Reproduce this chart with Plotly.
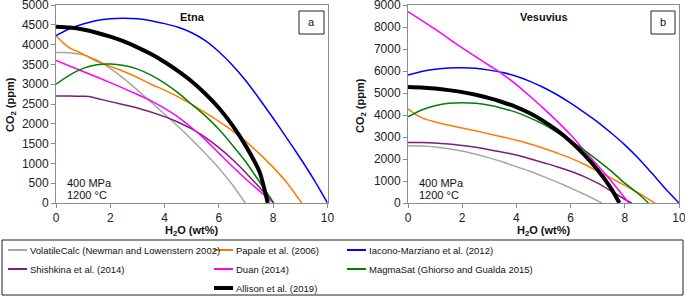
import plotly.graph_objects as go

W, H = 685, 296
FONT = "Liberation Sans, Arial, sans-serif"

# ---------------- data ----------------
series_names = [
    "VolatileCalc (Newman and Lowenstern 2002)",
    "Papale et al. (2006)",
    "Iacono-Marziano et al. (2012)",
    "Shishkina et al. (2014)",
    "Duan (2014)",
    "MagmaSat (Ghiorso and Gualda 2015)",
    "Allison et al. (2019)",
]
series_colors = ["#A6A6A6", "#FF7A00", "#0000FF", "#7A1F7A", "#FF00FF", "#008000", "#000000"]
series_widths = [1.5, 1.5, 1.5, 1.5, 1.5, 1.5, 4]

# Etna (panel a)
etna_volatilecalc_h2o = [0, 0.5, 1, 1.5, 2, 2.5, 3, 3.5, 4, 4.5, 5, 5.5, 6, 6.5, 6.97]
etna_volatilecalc_co2 = [3800, 3795, 3740, 3610, 3400, 3140, 2850, 2550, 2240, 1930, 1600, 1250, 880, 460, 0]
etna_papale_h2o = [0, 0.25, 0.5, 1, 1.5, 2, 2.5, 3, 3.5, 4, 4.5, 5, 5.5, 6, 6.5, 7, 7.5, 8, 8.5, 9.05]
etna_papale_co2 = [4230, 4050, 3920, 3760, 3580, 3450, 3320, 3170, 3000, 2850, 2680, 2490, 2280, 2060, 1820, 1550, 1240, 900, 520, 0]
etna_iacono_h2o = [0, 0.5, 1, 1.5, 2, 2.5, 3, 3.5, 4, 4.5, 5, 5.5, 6, 6.5, 7, 7.5, 8, 8.5, 9, 9.5, 10]
etna_iacono_co2 = [4230, 4400, 4520, 4610, 4655, 4665, 4650, 4605, 4530, 4440, 4300, 4100, 3820, 3480, 3080, 2620, 2140, 1640, 1130, 590, 0]
etna_shishkina_h2o = [0, 0.5, 1, 1.2, 2, 3, 4, 4.5, 5, 5.5, 6, 6.5, 7, 7.5, 8.02]
etna_shishkina_co2 = [2700, 2700, 2695, 2690, 2560, 2400, 2180, 2040, 1870, 1660, 1400, 1100, 760, 390, 0]
etna_duan_h2o = [0, 1, 2, 3, 3.5, 4, 4.5, 5, 5.5, 6, 6.5, 7, 7.5, 8.02]
etna_duan_co2 = [3600, 3320, 3040, 2740, 2580, 2390, 2170, 1900, 1600, 1260, 920, 600, 300, 0]
etna_magmasat_h2o = [0, 0.5, 1, 1.5, 2, 2.5, 3, 3.5, 4, 4.5, 5, 5.5, 6, 6.5, 7, 7.5, 8.02]
etna_magmasat_co2 = [3000, 3230, 3400, 3490, 3510, 3470, 3380, 3230, 3030, 2780, 2490, 2200, 1860, 1460, 1030, 530, 0]
etna_allison_h2o = [0, 0.5, 1, 1.5, 2, 2.5, 3, 3.5, 4, 4.5, 5, 5.5, 6, 6.5, 7, 7.5, 7.8]
etna_allison_co2 = [4450, 4430, 4380, 4300, 4200, 4080, 3930, 3760, 3560, 3330, 3070, 2760, 2400, 1960, 1430, 780, 0]

# Vesuvius (panel b)
vesu_volatilecalc_h2o = [0, 0.5, 1, 1.5, 2, 2.5, 3, 3.5, 4, 4.5, 5, 5.5, 6, 6.5, 7, 7.15]
vesu_volatilecalc_co2 = [2600, 2590, 2550, 2470, 2360, 2220, 2050, 1860, 1650, 1440, 1200, 950, 680, 400, 100, 0]
vesu_papale_h2o = [0, 0.25, 0.5, 1, 1.5, 2, 2.5, 3, 3.5, 4, 4.5, 5, 5.5, 6, 6.5, 7, 7.5, 8, 8.5, 9.1]
vesu_papale_co2 = [4280, 4050, 3880, 3680, 3530, 3410, 3280, 3140, 3000, 2850, 2680, 2490, 2270, 2040, 1760, 1440, 1130, 800, 460, 0]
vesu_iacono_h2o = [0, 0.5, 1, 1.5, 2, 2.5, 3, 3.5, 4, 4.5, 5, 5.5, 6, 6.5, 7, 7.5, 8, 8.5, 9, 9.5, 10]
vesu_iacono_co2 = [5820, 5980, 6080, 6140, 6150, 6120, 6040, 5930, 5760, 5530, 5250, 4920, 4540, 4120, 3680, 3180, 2640, 2030, 1350, 650, 0]
vesu_shishkina_h2o = [0, 0.5, 1, 1.5, 2, 2.5, 3, 3.5, 4, 4.5, 5, 5.5, 6, 6.5, 7, 7.5, 8, 8.25]
vesu_shishkina_co2 = [2750, 2750, 2730, 2680, 2610, 2530, 2420, 2310, 2180, 2010, 1830, 1650, 1440, 1200, 900, 540, 170, 0]
vesu_duan_h2o = [0, 1, 2, 3, 3.5, 4, 4.5, 5, 5.5, 6, 6.5, 7, 7.5, 8, 8.15]
vesu_duan_co2 = [8700, 7900, 7050, 6250, 5850, 5380, 4850, 4300, 3720, 3100, 2400, 1700, 1000, 230, 0]
vesu_magmasat_h2o = [0, 0.5, 1, 1.5, 2, 2.5, 3, 3.5, 4, 4.5, 5, 5.5, 6, 6.5, 7, 7.5, 8, 8.5, 8.87]
vesu_magmasat_co2 = [3920, 4230, 4420, 4530, 4560, 4530, 4440, 4300, 4120, 3870, 3570, 3210, 2820, 2400, 1940, 1450, 900, 420, 0]
vesu_allison_h2o = [0, 0.5, 1, 1.5, 2, 2.5, 3, 3.5, 4, 4.5, 5, 5.5, 6, 6.5, 7, 7.5, 7.8]
vesu_allison_co2 = [5270, 5250, 5200, 5130, 5040, 4920, 4770, 4580, 4360, 4080, 3720, 3300, 2800, 2200, 1500, 650, 0]

x_ticks = [0, 2, 4, 6, 8, 10]
etna_y_ticks = list(range(0, 5001, 500))
vesu_y_ticks = list(range(0, 9001, 1000))

etna_series = [
    (etna_volatilecalc_h2o, etna_volatilecalc_co2),
    (etna_papale_h2o, etna_papale_co2),
    (etna_iacono_h2o, etna_iacono_co2),
    (etna_shishkina_h2o, etna_shishkina_co2),
    (etna_duan_h2o, etna_duan_co2),
    (etna_magmasat_h2o, etna_magmasat_co2),
    (etna_allison_h2o, etna_allison_co2),
]
vesu_series = [
    (vesu_volatilecalc_h2o, vesu_volatilecalc_co2),
    (vesu_papale_h2o, vesu_papale_co2),
    (vesu_iacono_h2o, vesu_iacono_co2),
    (vesu_shishkina_h2o, vesu_shishkina_co2),
    (vesu_duan_h2o, vesu_duan_co2),
    (vesu_magmasat_h2o, vesu_magmasat_co2),
    (vesu_allison_h2o, vesu_allison_co2),
]

# ---------------- figure ----------------
def px(x):
    return x / W


def py(y):
    return 1 - y / H


fig = go.Figure()

for i, (xs, ys) in enumerate(etna_series):
    fig.add_trace(go.Scatter(
        x=xs, y=ys, mode="lines", name=series_names[i],
        line=dict(color=series_colors[i], width=series_widths[i], shape="spline", smoothing=0.6),
        xaxis="x", yaxis="y", showlegend=False, hoverinfo="skip"))
for i, (xs, ys) in enumerate(vesu_series):
    fig.add_trace(go.Scatter(
        x=xs, y=ys, mode="lines", name=series_names[i],
        line=dict(color=series_colors[i], width=series_widths[i], shape="spline", smoothing=0.6),
        xaxis="x2", yaxis="y2", showlegend=False, hoverinfo="skip"))

axis_common = dict(
    showgrid=False, zeroline=False, showline=True, linecolor="#8C8C8C", linewidth=1,
    mirror=True, ticks="outside", ticklen=4, tickcolor="#8C8C8C", tickwidth=1,
    automargin=False, ticklabeloverflow="allow",
    tickfont=dict(family=FONT, size=12, color="#222222"),
)
ydom = [py(203), py(5)]

fig.update_layout(
    template="none",
    width=W, height=H,
    margin=dict(l=0, r=0, t=0, b=0, pad=0),
    paper_bgcolor="white", plot_bgcolor="white",
    font=dict(family=FONT, size=11, color="#222222"),
    xaxis=dict(domain=[px(56), px(327.5)], range=[0, 10], tickvals=x_ticks, anchor="y", **axis_common),
    yaxis=dict(domain=ydom, range=[0, 5000], tickvals=etna_y_ticks, anchor="x", **axis_common),
    xaxis2=dict(domain=[px(408), px(679)], range=[0, 10], tickvals=x_ticks, anchor="y2", **axis_common),
    yaxis2=dict(domain=ydom, range=[0, 9000], tickvals=vesu_y_ticks, anchor="x2", **axis_common),
    showlegend=False,
)

ann = []
shapes = []

def text(x, y, s, size=11, bold=False, xanchor="center", angle=0):
    ann.append(dict(
        x=px(x), y=py(y), xref="paper", yref="paper", text=("<b>%s</b>" % s) if bold else s,
        showarrow=False, xanchor=xanchor, yanchor="middle", textangle=angle,
        font=dict(family=FONT, size=size, color="#111111")))

# axis titles
text(11, 105, "CO<sub>2</sub> (ppm)", bold=True, angle=-90)
text(361, 105, "CO<sub>2</sub> (ppm)", bold=True, angle=-90)
text(192, 231, "H<sub>2</sub>O (wt%)", bold=True)
text(544, 231, "H<sub>2</sub>O (wt%)", bold=True)

# panel titles
text(192, 17, "Etna", bold=True)
text(544, 17, "Vesuvius", bold=True)

# panel letters with boxes
for (x0, x1, lab) in [(299, 324, "a"), (651, 675, "b")]:
    shapes.append(dict(type="rect", xref="paper", yref="paper", x0=px(x0), x1=px(x1),
                       y0=py(34), y1=py(11), line=dict(color="#222222", width=1)))
    text((x0 + x1) / 2, 22.5, lab)

# conditions
for x0 in (65, 417):
    text(x0, 183, "400 MPa", xanchor="left")
    text(x0, 194.5, "1200 °C", xanchor="left")

# legend box
shapes.append(dict(type="rect", xref="paper", yref="paper", x0=px(2), x1=px(683),
                   y0=py(295), y1=py(240), line=dict(color="#222222", width=1)))
legend_cols = [8, 214, 347]
legend_rows = [250, 269, 288]
legend_slots = [(0, 0), (0, 1), (0, 2), (1, 0), (1, 1), (1, 2), (2, 1)]
for i, (r, c) in enumerate(legend_slots):
    lx = legend_cols[c]
    ly = legend_rows[r]
    shapes.append(dict(type="line", xref="paper", yref="paper", x0=px(lx), x1=px(lx + 19),
                       y0=py(ly), y1=py(ly),
                       line=dict(color=series_colors[i], width=2 if series_widths[i] < 3 else 4)))
    text(lx + 20, ly, series_names[i], size=9.5, xanchor="left")

fig.update_layout(annotations=ann, shapes=shapes)
fig.write_html(
    "out.html",
    config={"displayModeBar": False, "staticPlot": True},
    post_script="document.body.style.margin='0';document.body.style.padding='0';"
                "document.documentElement.style.overflow='hidden';",
)
